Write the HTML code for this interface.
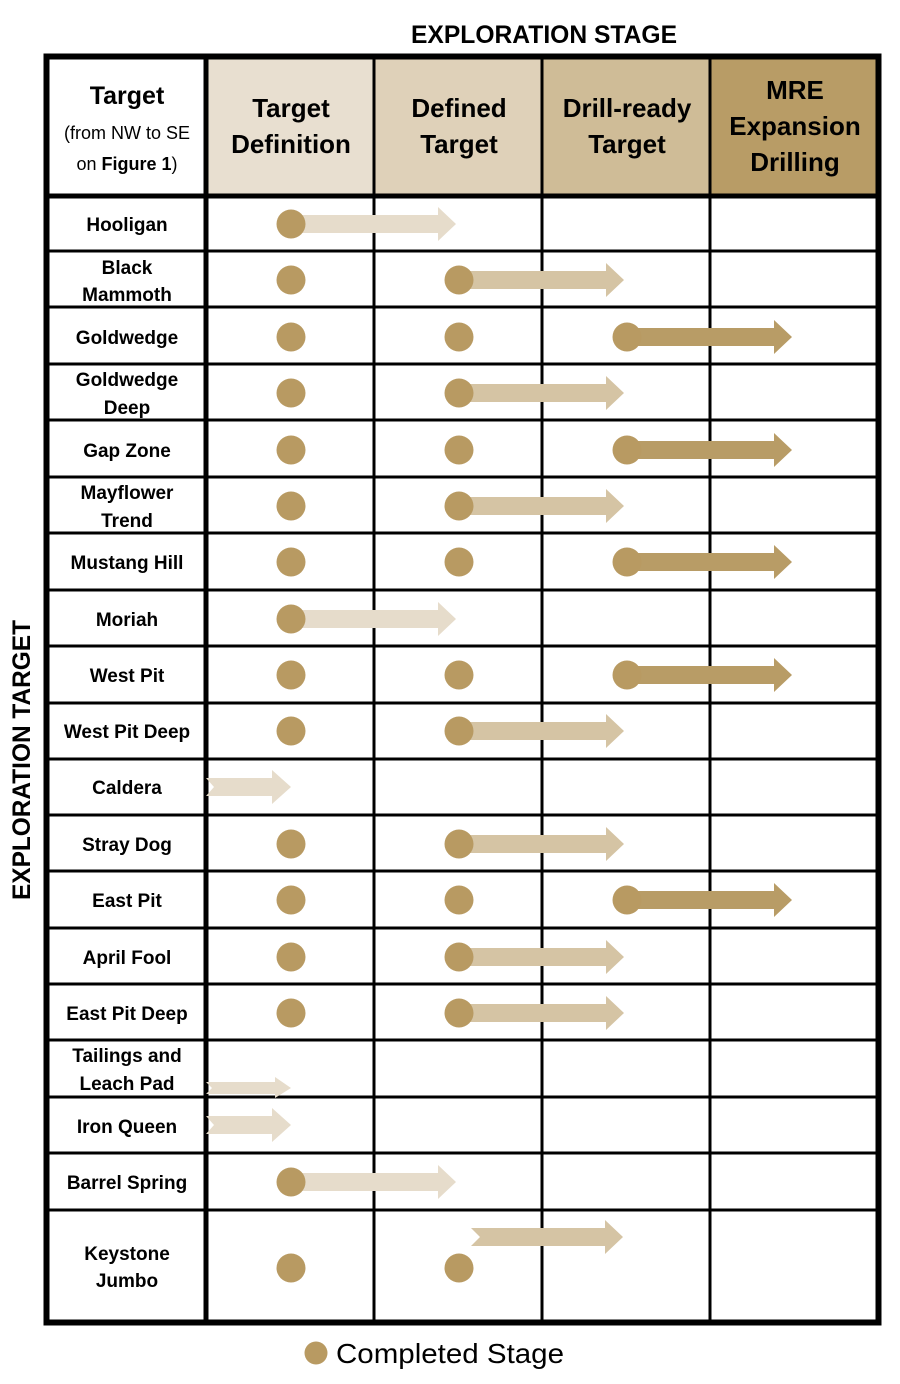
<!DOCTYPE html>
<html><head><meta charset="utf-8"><style>
html,body{margin:0;padding:0;background:#fff;}
svg{display:block;}
text{font-family:"Liberation Sans",Arial,sans-serif;font-weight:bold;fill:#000;}
</style></head><body>
<svg width="900" height="1384" viewBox="0 0 900 1384" xmlns="http://www.w3.org/2000/svg">
<defs>
<g id="a1"><polygon points="0,-9 147,-9 147,-17 165,0 147,17 147,9 0,9"/></g>
</defs>
<!-- header fills -->
<rect x="207" y="57" width="167" height="138" fill="#e8dfd0"/>
<rect x="374" y="57" width="168" height="138" fill="#dfd1b9"/>
<rect x="542" y="57" width="168" height="138" fill="#cfbc97"/>
<rect x="710" y="57" width="168" height="138" fill="#b89c66"/>

<text x="544" y="43" font-size="25" text-anchor="middle" textLength="266" lengthAdjust="spacingAndGlyphs">EXPLORATION STAGE</text>
<text transform="translate(30,760) rotate(-90)" font-size="25" text-anchor="middle" textLength="280" lengthAdjust="spacingAndGlyphs">EXPLORATION TARGET</text>

<text x="127" y="104" font-size="25" text-anchor="middle">Target</text>
<text x="127" y="139" font-size="18" text-anchor="middle" style="font-weight:normal">(from NW to SE</text>
<text x="127" y="170" font-size="18" text-anchor="middle"><tspan style="font-weight:normal">on </tspan>Figure 1<tspan style="font-weight:normal">)</tspan></text>

<g font-size="26" text-anchor="middle">
<text x="291" y="117">Target</text><text x="291" y="153">Definition</text>
<text x="459" y="117">Defined</text><text x="459" y="153">Target</text>
<text x="627" y="117">Drill-ready</text><text x="627" y="153">Target</text>
<text x="795" y="99">MRE</text><text x="795" y="135">Expansion</text><text x="795" y="171">Drilling</text>
</g>

<!-- row labels -->
<g font-size="19" text-anchor="middle">
<text x="127" y="231">Hooligan</text>
<text x="127" y="274">Black</text><text x="127" y="301">Mammoth</text>
<text x="127" y="344">Goldwedge</text>
<text x="127" y="386">Goldwedge</text><text x="127" y="414">Deep</text>
<text x="127" y="457">Gap Zone</text>
<text x="127" y="499">Mayflower</text><text x="127" y="527">Trend</text>
<text x="127" y="569">Mustang Hill</text>
<text x="127" y="626">Moriah</text>
<text x="127" y="682">West Pit</text>
<text x="127" y="738">West Pit Deep</text>
<text x="127" y="794">Caldera</text>
<text x="127" y="851">Stray Dog</text>
<text x="127" y="907">East Pit</text>
<text x="127" y="964">April Fool</text>
<text x="127" y="1020">East Pit Deep</text>
<text x="127" y="1062">Tailings and</text><text x="127" y="1090">Leach Pad</text>
<text x="127" y="1133">Iron Queen</text>
<text x="127" y="1189">Barrel Spring</text>
<text x="127" y="1260">Keystone</text><text x="127" y="1287">Jumbo</text>
</g>

<!-- grid lines -->
<g stroke="#000" stroke-width="3">
<line x1="374" y1="55" x2="374" y2="1325"/>
<line x1="542" y1="55" x2="542" y2="1325"/>
<line x1="710" y1="55" x2="710" y2="1325"/>
<line x1="46" y1="251" x2="880" y2="251"/>
<line x1="46" y1="307" x2="880" y2="307"/>
<line x1="46" y1="364" x2="880" y2="364"/>
<line x1="46" y1="420" x2="880" y2="420"/>
<line x1="46" y1="477" x2="880" y2="477"/>
<line x1="46" y1="533" x2="880" y2="533"/>
<line x1="46" y1="590" x2="880" y2="590"/>
<line x1="46" y1="646" x2="880" y2="646"/>
<line x1="46" y1="703" x2="880" y2="703"/>
<line x1="46" y1="759" x2="880" y2="759"/>
<line x1="46" y1="815" x2="880" y2="815"/>
<line x1="46" y1="871" x2="880" y2="871"/>
<line x1="46" y1="928" x2="880" y2="928"/>
<line x1="46" y1="984" x2="880" y2="984"/>
<line x1="46" y1="1040" x2="880" y2="1040"/>
<line x1="46" y1="1097" x2="880" y2="1097"/>
<line x1="46" y1="1153" x2="880" y2="1153"/>
<line x1="46" y1="1210" x2="880" y2="1210"/>
</g>
<g stroke="#000" stroke-width="5" fill="none">
<line x1="206" y1="55" x2="206" y2="1325"/>
<line x1="46" y1="196" x2="880" y2="196"/>
</g>
<rect x="46.5" y="56.5" width="832" height="1266" fill="none" stroke="#000" stroke-width="6"/>

<!-- arrows -->
<g fill="#e6dccb">
<use href="#a1" transform="translate(291,224)"/>
<use href="#a1" transform="translate(291,619)"/>
<use href="#a1" transform="translate(291,1182)"/>
<polygon points="206,778 272,778 272,770 291,787 272,804 272,796 206,796 214,787"/>
<polygon points="206,1082 275,1082 275,1077 291,1088 275,1098 275,1094 206,1094 212,1088"/>
<polygon points="206,1116 272,1116 272,1108 291,1125 272,1142 272,1134 206,1134 214,1125"/>
</g>
<g fill="#d5c4a4">
<use href="#a1" transform="translate(459,280)"/>
<use href="#a1" transform="translate(459,393)"/>
<use href="#a1" transform="translate(459,506)"/>
<use href="#a1" transform="translate(459,731)"/>
<use href="#a1" transform="translate(459,844)"/>
<use href="#a1" transform="translate(459,957)"/>
<use href="#a1" transform="translate(459,1013)"/>
<polygon points="471,1228 605,1228 605,1220 623,1237 605,1254 605,1246 471,1246 480,1237"/>
</g>
<g fill="#b89c66">
<use href="#a1" transform="translate(627,337)"/>
<use href="#a1" transform="translate(627,450)"/>
<use href="#a1" transform="translate(627,562)"/>
<use href="#a1" transform="translate(627,675)"/>
<use href="#a1" transform="translate(627,900)"/>
</g>

<!-- dots -->
<g fill="#b89a62">
<circle cx="291" cy="224" r="14.5"/>
<circle cx="291" cy="280" r="14.5"/><circle cx="459" cy="280" r="14.5"/>
<circle cx="291" cy="337" r="14.5"/><circle cx="459" cy="337" r="14.5"/><circle cx="627" cy="337" r="14.5"/>
<circle cx="291" cy="393" r="14.5"/><circle cx="459" cy="393" r="14.5"/>
<circle cx="291" cy="450" r="14.5"/><circle cx="459" cy="450" r="14.5"/><circle cx="627" cy="450" r="14.5"/>
<circle cx="291" cy="506" r="14.5"/><circle cx="459" cy="506" r="14.5"/>
<circle cx="291" cy="562" r="14.5"/><circle cx="459" cy="562" r="14.5"/><circle cx="627" cy="562" r="14.5"/>
<circle cx="291" cy="619" r="14.5"/>
<circle cx="291" cy="675" r="14.5"/><circle cx="459" cy="675" r="14.5"/><circle cx="627" cy="675" r="14.5"/>
<circle cx="291" cy="731" r="14.5"/><circle cx="459" cy="731" r="14.5"/>
<circle cx="291" cy="844" r="14.5"/><circle cx="459" cy="844" r="14.5"/>
<circle cx="291" cy="900" r="14.5"/><circle cx="459" cy="900" r="14.5"/><circle cx="627" cy="900" r="14.5"/>
<circle cx="291" cy="957" r="14.5"/><circle cx="459" cy="957" r="14.5"/>
<circle cx="291" cy="1013" r="14.5"/><circle cx="459" cy="1013" r="14.5"/>
<circle cx="291" cy="1182" r="14.5"/>
<circle cx="291" cy="1268" r="14.5"/><circle cx="459" cy="1268" r="14.5"/>
<circle cx="316" cy="1353" r="11.5"/>
</g>
<text x="336" y="1363" font-size="28" style="font-weight:normal" textLength="228" lengthAdjust="spacingAndGlyphs">Completed Stage</text>
</svg>
</body></html>
